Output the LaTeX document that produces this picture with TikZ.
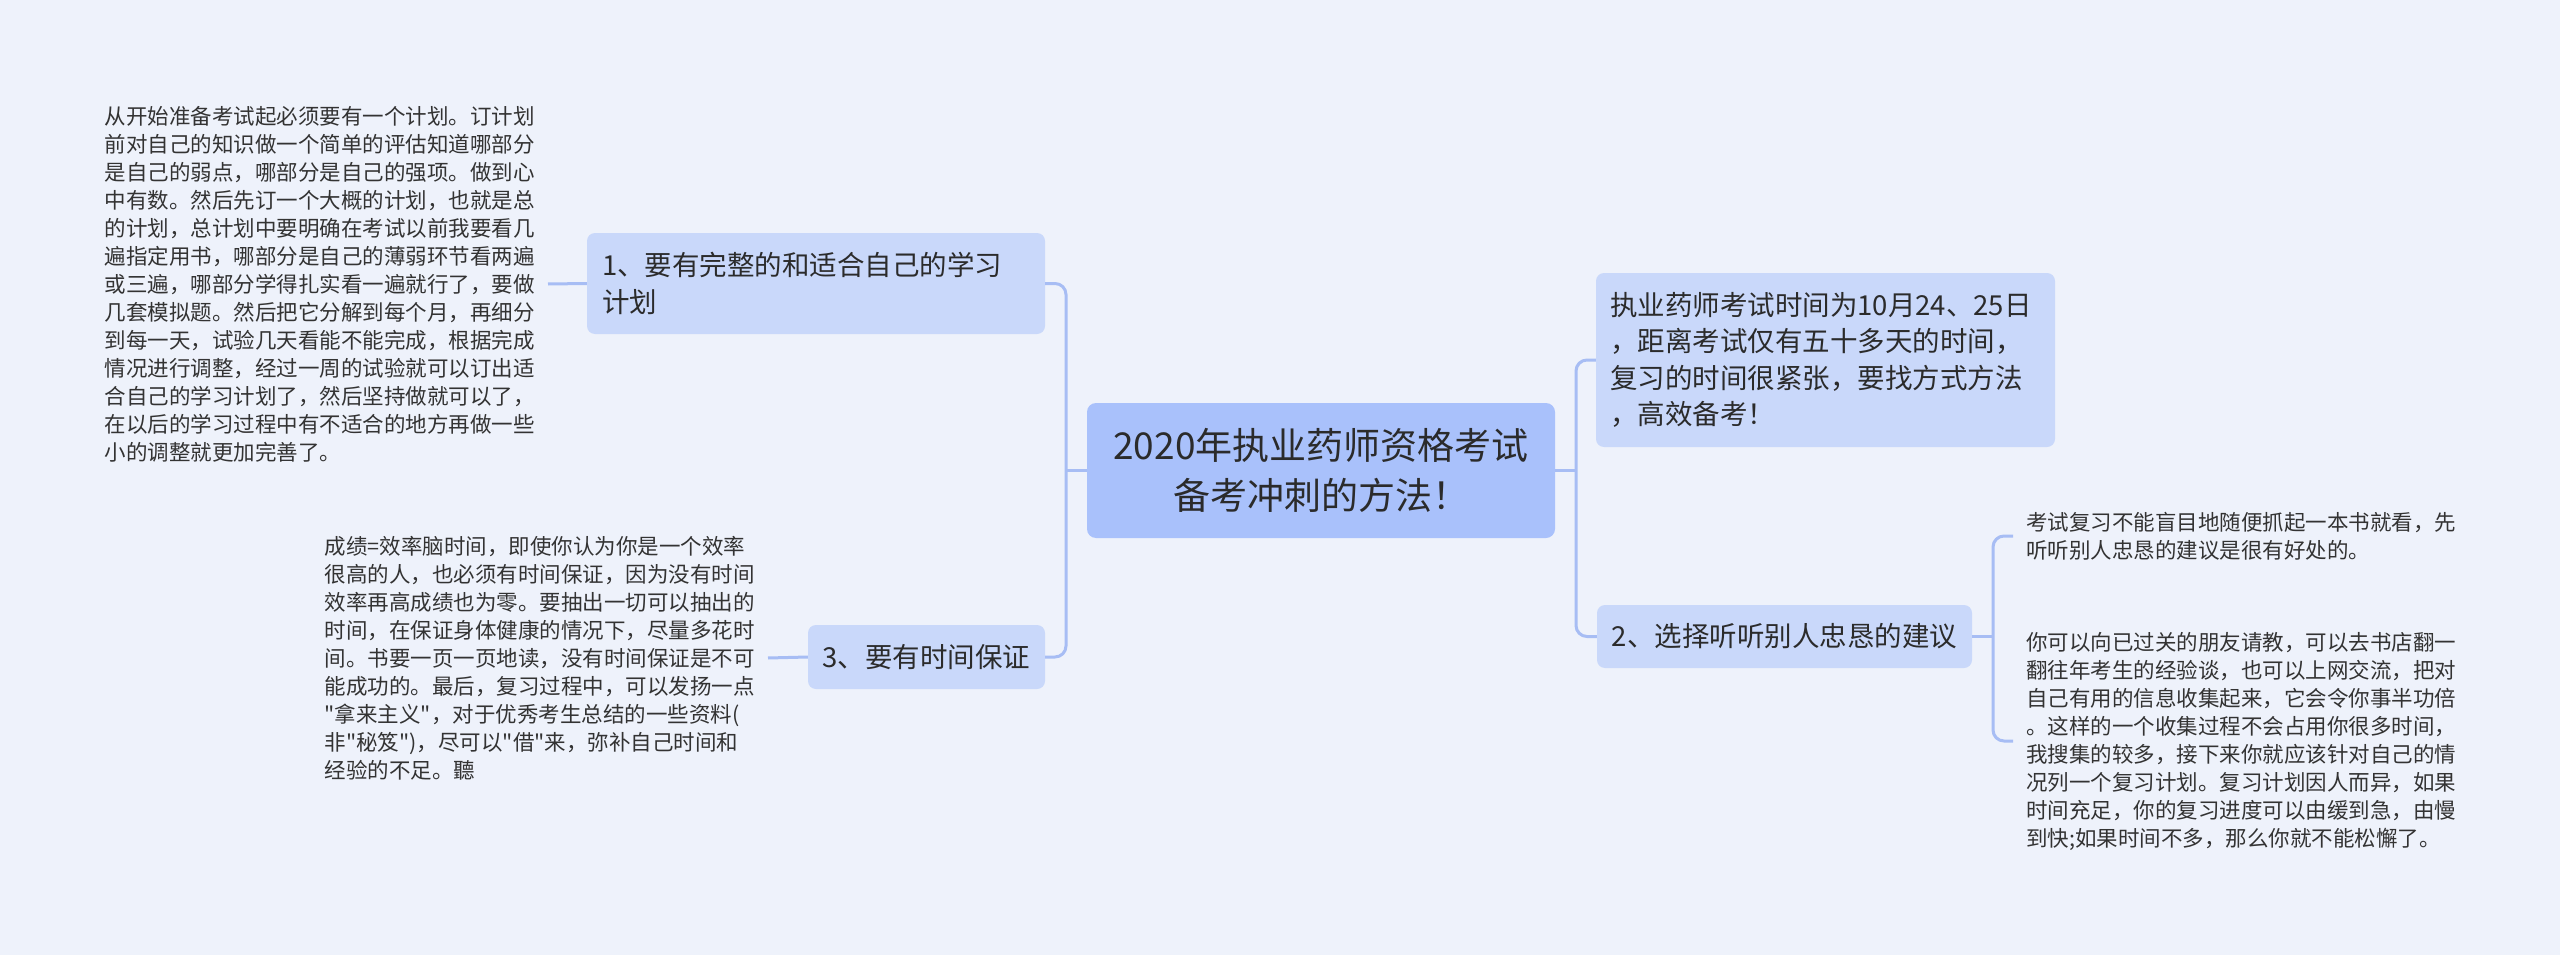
\documentclass[tikz,border=0pt]{standalone}
\usepackage{fontspec}
\setmainfont{Noto Sans CJK SC}
\newfontfamily\cjkf{Noto Sans CJK SC}
\definecolor{bg}{HTML}{EEF2FB}
\definecolor{rootc}{HTML}{A9C1FB}
\definecolor{boxc}{HTML}{C9D8FA}
\definecolor{linec}{HTML}{A7BDF4}
\definecolor{txt}{HTML}{2B2B2B}
\definecolor{leaftxt}{HTML}{333333}
\begin{document}
\begin{tikzpicture}[x=1pt,y=-1pt,
  conn/.style={draw=linec, line width=3pt, rounded corners=11pt},
  rootbox/.style={rectangle, rounded corners=9pt, fill=rootc, text=txt, align=center, inner sep=0pt, font=\cjkf\fontsize{37}{50}\selectfont},
  boxn/.style={rectangle, rounded corners=8pt, fill=boxc, text=txt, inner sep=0pt, font=\cjkf\fontsize{27.5}{36.5}\selectfont},
  leaf/.style={inner xsep=13pt, inner ysep=0pt, align=left, text=leaftxt, font=\cjkf\fontsize{21.5}{28}\selectfont}]
\fill[bg] (0,0) rectangle (2560,955);
\useasboundingbox (0,0) rectangle (2560,955);

\node[rootbox, minimum width=468pt, minimum height=135pt] (root) at (1321,470.5) {2020年执业药师资格考试\\备考冲刺的方法！};

\node[boxn, minimum width=458pt, minimum height=101pt, text width=428pt, align=left] (n1) at (816,283.5) {1、要有完整的和适合自己的学习\\计划};
\node[boxn, minimum width=237pt, minimum height=64pt] (n3) at (926.5,657) {3、要有时间保证};
\node[boxn, minimum width=459pt, minimum height=174pt, text width=431pt, align=left] (r1) at (1825.5,360) {执业药师考试时间为10月24、25日\\，距离考试仅有五十多天的时间，\\复习的时间很紧张，要找方式方法\\，高效备考！};
\node[boxn, minimum width=375pt, minimum height=63pt] (n2) at (1784.5,636.5) {2、选择听听别人忠恳的建议};

\node[leaf, anchor=east] (l1) at (548,284) {从开始准备考试起必须要有一个计划。订计划\\前对自己的知识做一个简单的评估知道哪部分\\是自己的弱点，哪部分是自己的强项。做到心\\中有数。然后先订一个大概的计划，也就是总\\的计划，总计划中要明确在考试以前我要看几\\遍指定用书，哪部分是自己的薄弱环节看两遍\\或三遍，哪部分学得扎实看一遍就行了，要做\\几套模拟题。然后把它分解到每个月，再细分\\到每一天，试验几天看能不能完成，根据完成\\情况进行调整，经过一周的试验就可以订出适\\合自己的学习计划了，然后坚持做就可以了，\\在以后的学习过程中有不适合的地方再做一些\\小的调整就更加完善了。};
\node[leaf, anchor=east] (l3) at (768,658) {成绩=效率脑时间，即使你认为你是一个效率\\很高的人，也必须有时间保证，因为没有时间\\效率再高成绩也为零。要抽出一切可以抽出的\\时间，在保证身体健康的情况下，尽量多花时\\间。书要一页一页地读，没有时间保证是不可\\能成功的。最后，复习过程中，可以发扬一点\\"拿来主义"，对于优秀考生总结的一些资料(\\非"秘笈")，尽可以"借"来，弥补自己时间和\\经验的不足。聽};
\node[leaf, anchor=west] (r2a) at (2013,536) {考试复习不能盲目地随便抓起一本书就看，先\\听听别人忠恳的建议是很有好处的。};
\node[leaf, anchor=west] (r2b) at (2013,741) {你可以向已过关的朋友请教，可以去书店翻一\\翻往年考生的经验谈，也可以上网交流，把对\\自己有用的信息收集起来，它会令你事半功倍\\。这样的一个收集过程不会占用你很多时间，\\我搜集的较多，接下来你就应该针对自己的情\\况列一个复习计划。复习计划因人而异，如果\\时间充足，你的复习进度可以由缓到急，由慢\\到快;如果时间不多，那么你就不能松懈了。};

\coordinate (tl) at (1066,470.5);
\coordinate (tr) at (1576,470.5);
\coordinate (br) at (1993,636.5);

\draw[conn] (root.west) -- (tl);
\draw[conn] (n1.east) -| (tl) |- (n3.east);
\draw[conn] (root.east) -- (tr);
\draw[conn] (r1.west) -| (tr) |- (n2.west);
\draw[conn] (n1.west) -- (l1.east);
\draw[conn] (n3.west) -- (l3.east);
\draw[conn] (n2.east) -- (br);
\draw[conn] (r2a.west) -| (br) |- (r2b.west);
\end{tikzpicture}
\end{document}
